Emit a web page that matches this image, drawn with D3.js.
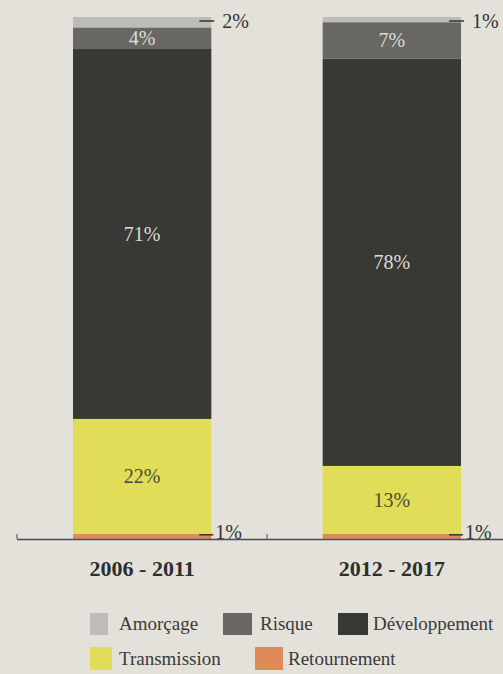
<!DOCTYPE html>
<html><head><meta charset="utf-8">
<script src="https://cdn.jsdelivr.net/npm/d3@7"></script>
<style>
html,body{margin:0;padding:0;background:#e3e1da;}
svg{display:block;}
</style></head>
<body>
<script>
const periods = ["2006 - 2011", "2012 - 2017"];
const series = ["Retournement", "Transmission", "Développement", "Risque", "Amorçage"];
const retournement = [1, 1];
const transmission = [22, 13];
const developpement = [71, 78];
const risque = [4, 7];
const amorcage = [2, 1];
const colors = {"Amorçage":"#bdbcb6","Risque":"#686763","Développement":"#383835","Transmission":"#e2dd58","Retournement":"#df8a57"};
const legendOrder = [["Amorçage","Risque","Développement"],["Transmission","Retournement"]];

const W = 503, H = 674;
const svg = d3.select("body").append("svg").attr("width", W).attr("height", H);

const rows = periods.map((p,i)=>({period:p, "Retournement":retournement[i], "Transmission":transmission[i],
  "Développement":developpement[i], "Risque":risque[i], "Amorçage":amorcage[i]}));
const stacked = d3.stack().keys(series)(rows);

const xb = d3.scaleBand().domain(periods).range([73, 461]).paddingInner(0.446).paddingOuter(0);
const y = d3.scaleLinear().domain([0, 100]).range([539, 17]);

const font = "'Liberation Serif','Times New Roman',serif";

stacked.forEach(layer=>{
  svg.selectAll(null).data(layer).enter().append("rect")
    .attr("x", d=>xb(d.data.period))
    .attr("width", xb.bandwidth())
    .attr("y", d=>y(d[1]))
    .attr("height", d=>y(d[0])-y(d[1]))
    .attr("fill", colors[layer.key]);
});

// axis baseline
svg.append("line").attr("x1",17).attr("x2",W).attr("y1",y(0)+0.5).attr("y2",y(0)+0.5)
  .attr("stroke","#4a4d55").attr("stroke-width",1.5);
[17, 267].forEach(t=>svg.append("line").attr("x1",t).attr("x2",t).attr("y1",y(0)-5).attr("y2",y(0))
  .attr("stroke","#4a4d55").attr("stroke-width",1));

// inside labels
const inside = ["Transmission","Développement","Risque"];
stacked.filter(l=>inside.includes(l.key)).forEach(layer=>{
  svg.selectAll(null).data(layer).enter().append("text")
    .attr("x", d=>xb(d.data.period)+xb.bandwidth()/2)
    .attr("y", d=>(y(d[0])+y(d[1]))/2 + 7)
    .attr("text-anchor","middle")
    .attr("font-family",font).attr("font-size",20)
    .attr("fill", layer.key==="Transmission" ? "#4a4a3a" : "#dcdcd6")
    .text(d=>d.data[layer.key]+"%");
});

// outside leader labels (top: Amorçage, bottom: Retournement)
const outside = [["Amorçage", 4], ["Retournement", -4]];
outside.forEach(([key, dy])=>{
  const layer = stacked.find(l=>l.key===key);
  layer.forEach(d=>{
    const xr = xb(d.data.period)+xb.bandwidth();
    const ym = key==="Amorçage" ? y(d[1]) + dy : y(d[1]) + 1;
    svg.append("line").attr("x1", xr-12).attr("x2", xr+ (key==="Amorçage"?3:2))
      .attr("y1", ym).attr("y2", ym).attr("stroke","#333").attr("stroke-width",1.5);
    svg.append("text").attr("x", xr + (key==="Amorçage"?11:4)).attr("y", ym + (key==="Amorçage"?7:4))
      .attr("font-family",font).attr("font-size",20).attr("fill","#333")
      .text(d.data[key]+"%");
  });
});

// category labels
svg.selectAll(null).data(periods).enter().append("text")
  .attr("x", d=>xb(d)+xb.bandwidth()/2).attr("y", 576)
  .attr("text-anchor","middle").attr("font-family",font).attr("font-weight","bold")
  .attr("font-size",22).attr("fill","#2e2e2e").text(d=>d);

// legend
const legendPos = {
  "Amorçage":[90,613,18,22,119], "Risque":[223,613,29,22,260], "Développement":[338,613,30,22,373],
  "Transmission":[90,647,22,23,119], "Retournement":[255,647,28,23,288]
};
legendOrder.flat().forEach(k=>{
  const [sx,sy,sw,sh,tx] = legendPos[k];
  svg.append("rect").attr("x",sx).attr("y",sy).attr("width",sw).attr("height",sh).attr("fill",colors[k]);
  svg.append("text").attr("x",tx).attr("y",sy+sh-5).attr("font-family",font).attr("font-size",19)
    .attr("fill","#3a3a3a").text(k);
});
</script>
</body></html>
